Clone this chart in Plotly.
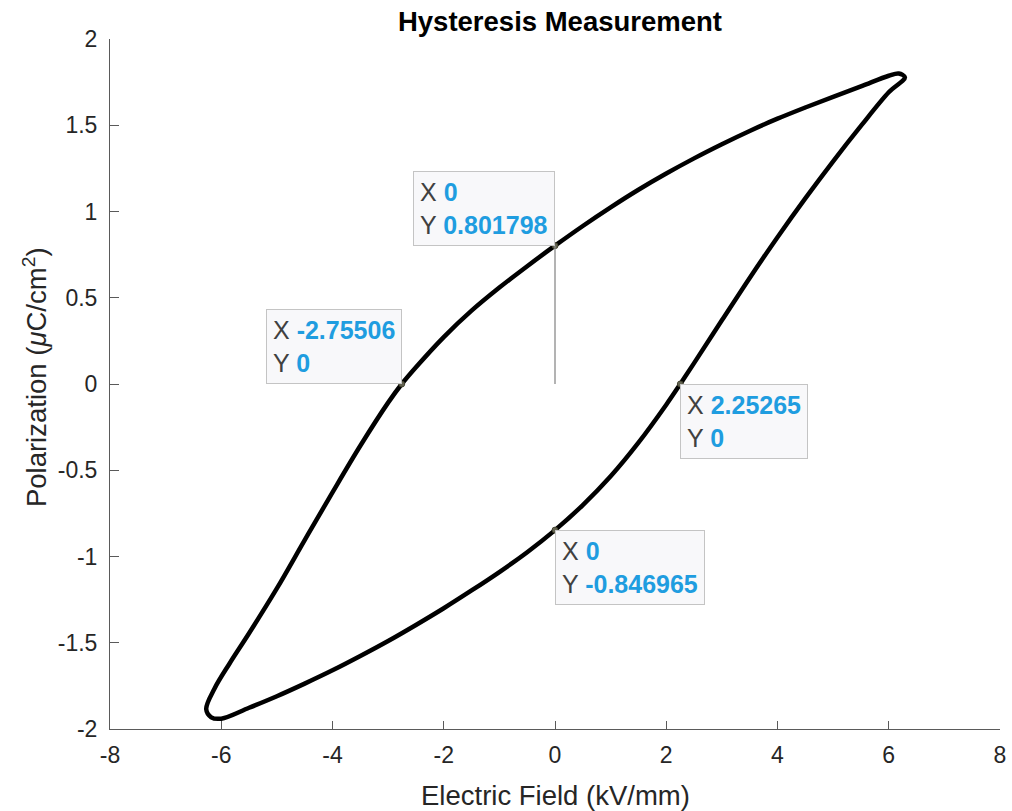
import plotly.graph_objects as go

# ---------------- data ----------------
# Upper branch (field decreasing): from the positive tip to the negative tip
E_up = [6.18, 6.0, 5.5, 5.0, 4.5, 4.0, 3.5, 3.0, 2.5, 2.0, 1.5, 1.0, 0.5, 0.0,
        -0.5, -1.0, -1.5, -2.0, -2.5, -2.75506, -3.0, -3.5, -4.0, -4.5, -5.0, -5.5,
        -5.85, -6.12, -6.27, -6.18]
P_up = [1.80, 1.787, 1.725, 1.665, 1.603, 1.538, 1.467, 1.39, 1.308, 1.22,
        1.126, 1.024, 0.916, 0.801798, 0.683, 0.559, 0.425, 0.272, 0.097, 0.0, -0.108,
        -0.358, -0.628, -0.905, -1.185, -1.445, -1.62, -1.765, -1.885, -1.932]

# Lower branch (field increasing): from the negative tip back to the positive tip
E_lo = [-6.0, -5.5, -5.0, -4.5, -4.0, -3.5, -3.0, -2.5, -2.0, -1.5, -1.0, -0.5, 0.0,
        0.5, 1.0, 1.5, 2.0, 2.25265, 2.5, 3.0, 3.5, 4.0, 4.5, 5.0, 5.5, 6.0, 6.29]
P_lo = [-1.94, -1.877, -1.81, -1.737, -1.66, -1.577, -1.49, -1.397, -1.30, -1.197,
        -1.09, -0.975, -0.846965, -0.702, -0.535, -0.34, -0.12, 0.0, 0.121, 0.369,
        0.615, 0.851, 1.076, 1.291, 1.496, 1.691, 1.778]

# Data tips
tip_x = [0, -2.75506, 2.25265, 0]
tip_y = [0.801798, 0, 0, -0.846965]
tip_xlabel = ["0", "-2.75506", "2.25265", "0"]
tip_ylabel = ["0.801798", "0", "0", "-0.846965"]
tip_xanchor = ["right", "right", "left", "left"]
tip_yanchor = ["bottom", "bottom", "top", "top"]

# Axis ticks
x_ticks = [-8, -6, -4, -2, 0, 2, 4, 6, 8]
x_ticktext = ["-8", "-6", "-4", "-2", "0", "2", "4", "6", "8"]
y_ticks = [-2, -1.5, -1, -0.5, 0, 0.5, 1, 1.5, 2]
y_ticktext = ["-2", "-1.5", "-1", "-0.5", "0", "0.5", "1", "1.5", "2"]

FONT = "Liberation Sans, Arial, Helvetica, sans-serif"
AX = "#5a5a5a"
TXT = "#262626"
BLUE = "#1f9de0"

E_loop = E_up + E_lo + E_up[:1]
P_loop = P_up + P_lo + P_up[:1]

fig = go.Figure()
fig.add_trace(go.Scatter(
    x=E_loop, y=P_loop, mode="lines",
    line=dict(color="black", width=4.5, shape="spline", smoothing=1.0),
    hoverinfo="skip", showlegend=False,
))

# leader line of the first data tip
fig.add_shape(type="line", x0=tip_x[0], y0=tip_y[0], x1=tip_x[0], y1=0,
              line=dict(color="#8a8a8a", width=1.3), layer="above")

fig.add_trace(go.Scatter(
    x=tip_x, y=tip_y, mode="markers",
    marker=dict(size=6, color="rgba(110,110,90,0.9)",
                line=dict(color="rgba(60,60,40,0.9)", width=1)),
    hoverinfo="skip", showlegend=False,
))

for xv, yv, xl, yl, xa, ya in zip(tip_x, tip_y, tip_xlabel, tip_ylabel,
                                  tip_xanchor, tip_yanchor):
    txt = (f"X <span style='color:{BLUE}'><b>{xl}</b></span><br>"
           f"Y <span style='color:{BLUE}'><b>{yl}</b></span>")
    fig.add_annotation(
        x=xv, y=yv, xref="x", yref="y", text=txt, showarrow=False,
        xanchor=xa, yanchor=ya, align="left",
        font=dict(family=FONT, size=25, color="#404040"),
        bgcolor="#f8f8fa", bordercolor="#c4c4c4", borderwidth=1, borderpad=6,
    )

# axis labels
fig.add_annotation(
    x=0.5, y=-0.0957, xref="paper", yref="paper", showarrow=False,
    text="Electric Field (kV/mm)", xanchor="center", yanchor="middle",
    font=dict(family=FONT, size=27.5, color=TXT),
)
fig.add_annotation(
    x=-0.0843, y=0.51, xref="paper", yref="paper", showarrow=False,
    text="Polarization (<i>μ</i>C/cm<sup>2</sup>)", textangle=-90,
    xanchor="center", yanchor="middle",
    font=dict(family=FONT, size=27.5, color=TXT),
)

fig.update_layout(
    width=1012, height=811,
    margin=dict(l=110, r=12, t=39, b=82),
    paper_bgcolor="white", plot_bgcolor="white",
    title=dict(text="<b>Hysteresis Measurement</b>", x=0.5056, xref="paper",
               y=1 - 21 / 811, yref="container", xanchor="center", yanchor="middle",
               font=dict(family=FONT, size=27.5, color="black")),
    xaxis=dict(range=[-8, 8], tickvals=x_ticks, ticktext=x_ticktext,
               showgrid=False, zeroline=False, showline=True, linecolor=AX,
               linewidth=1, ticks="inside", ticklen=8, tickcolor=AX, tickwidth=1,
               tickfont=dict(family=FONT, size=23, color=TXT), mirror=False,
               automargin=False, ticklabelstandoff=5),
    yaxis=dict(range=[-2, 2], tickvals=y_ticks, ticktext=y_ticktext,
               showgrid=False, zeroline=False, showline=True, linecolor=AX,
               linewidth=1, ticks="inside", ticklen=9, tickcolor=AX, tickwidth=1,
               tickfont=dict(family=FONT, size=23, color=TXT), mirror=False,
               automargin=False, ticklabelstandoff=7),
)

fig.write_html("out.html")
